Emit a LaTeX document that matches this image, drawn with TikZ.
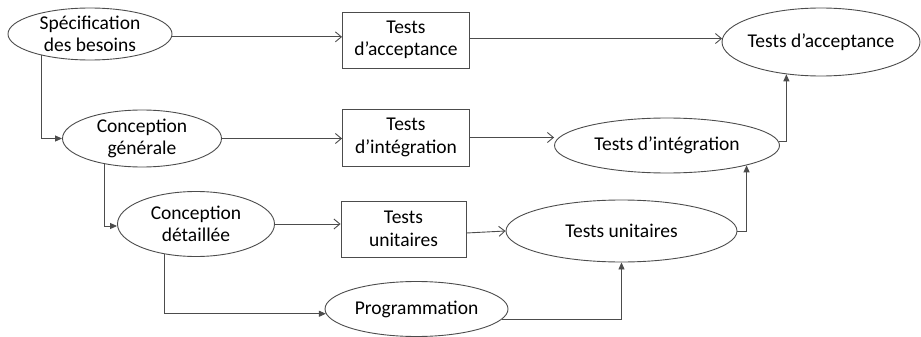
\documentclass[tikz,border=0pt]{standalone}
\usepackage{fontspec}
\setmainfont{Carlito}
\usetikzlibrary{shapes.geometric,arrows.meta}
\definecolor{linegray}{gray}{0.3}
\begin{document}
\begin{tikzpicture}[x=1pt,y=-1pt,
  every node/.style={font=\fontsize{19.5}{22.5}\selectfont, align=center, text=black},
  ell/.style={ellipse, draw=linegray, line width=0.9pt, inner sep=-15pt},
  box/.style={rectangle, draw=linegray, line width=0.9pt, inner sep=0pt},
  conn/.style={draw=linegray, line width=0.9pt},
  openarr/.style={conn, -{Straight Barb[length=6pt,width=10pt]}},
  fillarr/.style={conn, -{Triangle[length=7pt,width=6pt]}}]
\useasboundingbox (0,0) rectangle (921,337);
% nodes
\node[ell, minimum width=164pt, minimum height=52pt] (spec) at (90,34) {Spécification\\des besoins};
\node[box, minimum width=127pt, minimum height=56pt] (box1) at (406,40) {Tests\\d’acceptance};
\node[ell, minimum width=198pt, minimum height=68pt] (accE) at (821,42) {Tests d’acceptance};
\node[ell, minimum width=159pt, minimum height=57pt] (genE) at (142,138.5) {Conception\\générale};
\node[box, minimum width=127pt, minimum height=57pt] (box2) at (406,137.5) {Tests\\d’intégration};
\node[ell, minimum width=225pt, minimum height=55pt] (intE) at (667,145.5) {Tests d’intégration};
\node[ell, minimum width=157pt, minimum height=65pt] (detE) at (196,224) {Conception\\détaillée};
\node[box, minimum width=125pt, minimum height=56pt] (box3) at (403.5,229) {Tests\\unitaires};
\node[ell, minimum width=231pt, minimum height=62pt] (unitE) at (621.5,231) {Tests unitaires};
\node[ell, minimum width=183pt, minimum height=55pt] (progE) at (416.5,309) {Programmation};
% horizontal connectors
\draw[openarr] (spec.358) -- (box1.west |- spec.358);
\draw[openarr] (box1.east |- accE.178) -- (accE.178);
\draw[openarr] (genE.east) -- (box2.west |- genE.east);
\draw[openarr] (box2.east) -- (intE.west |- box2.east);
\draw[openarr] (detE.east) -- (box3.west |- detE.east);
\draw[openarr] ([yshift=-4pt]box3.east) -- (unitE.west);
% elbow connectors
\draw[fillarr] (spec.204) |- (genE.west);
\draw[fillarr] (genE.214) |- ([yshift=-2pt]detE.west);
\draw[fillarr] (detE.224) |- (progE.183);
\draw[fillarr] (progE.353) -| (unitE.south);
\draw[fillarr] (unitE.east) -| (intE.346);
\draw[fillarr] (intE.2) -| (accE.223);
\end{tikzpicture}
\end{document}
